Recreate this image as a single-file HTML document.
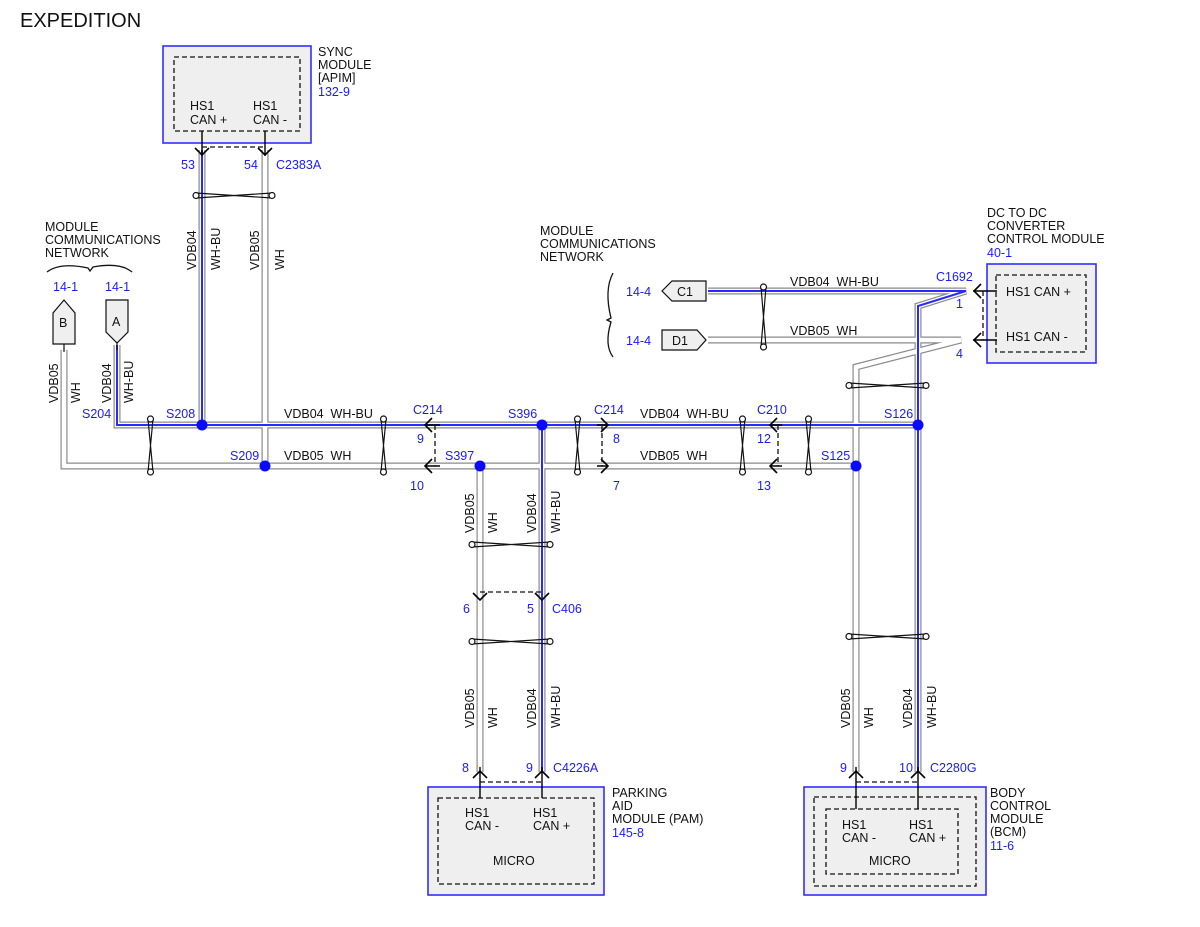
<!DOCTYPE html>
<html><head><meta charset="utf-8"><style>
html,body{margin:0;padding:0;background:#fff;}
svg{display:block;font-family:"Liberation Sans","DejaVu Sans",sans-serif;font-size:12.5px;}
.b{fill:#1a1aff}
.k{fill:#111}
.o{fill:none;stroke:#8a8a8a;stroke-width:7}
.w{fill:none;stroke:#fff;stroke-width:4.6}
.u{fill:none;stroke:#2a2aff;stroke-width:2}
.ar{fill:none;stroke:#000;stroke-width:1.6}
.tw{fill:none;stroke:#111;stroke-width:1.2}
.tc{fill:#fff;stroke:#111;stroke-width:1.2}
.dash{fill:none;stroke:#111;stroke-width:1.3;stroke-dasharray:5,3}
.mod{fill:#efefef;stroke:#3030ff;stroke-width:1.6}
.dot{fill:#0a0aff}
</style></head><body>
<svg width="1200" height="927" viewBox="0 0 1200 927">
<defs>
<path id="a1" d="M117,345 V425 H918"/>
<path id="a2" d="M202,150 V425"/>
<path id="a3" d="M542,425 V772"/>
<path id="a4" d="M708,291 H966 L918,306 V772"/>
<path id="b1" d="M64,350 V466 H856"/>
<path id="b2" d="M265,150 V466"/>
<path id="b3" d="M480,466 V772"/>
<path id="b4" d="M708,340 H961 L856,367 V772"/>
</defs>
<text x="20" y="27" style="font-size:20px" class="k">EXPEDITION</text>

<!-- wires -->
<g class="o"><use href="#a1"/><use href="#a2"/><use href="#a3"/><use href="#a4"/><use href="#b1"/><use href="#b2"/><use href="#b3"/><use href="#b4"/></g>
<g class="w"><use href="#a1"/><use href="#a2"/><use href="#a3"/><use href="#a4"/><use href="#b1"/><use href="#b2"/><use href="#b3"/><use href="#b4"/></g>
<g class="u"><use href="#a1"/><use href="#a2"/><use href="#a3"/><use href="#a4"/></g>

<!-- SYNC module -->
<rect x="163" y="46" width="148" height="97" class="mod"/>
<rect x="174" y="57" width="126" height="74" class="dash"/>
<text x="190" y="110" class="k">HS1</text><text x="190" y="124" class="k">CAN +</text>
<text x="253" y="110" class="k">HS1</text><text x="253" y="124" class="k">CAN -</text>
<text x="318" y="56" class="k">SYNC</text><text x="318" y="69" class="k">MODULE</text><text x="318" y="82" class="k">[APIM]</text><text x="318" y="96" class="b">132-9</text>
<path d="M202,131V156 M265,131V156" stroke="#000" stroke-width="1.4"/>
<path d="M195,148 L202,155 L209,148 M258,148 L265,155 L272,148" class="ar"/>
<path d="M202,147 H265" class="dash"/>
<text x="181" y="169" class="b">53</text><text x="244" y="169" class="b">54</text><text x="276" y="169" class="b">C2383A</text>

<!-- DC module -->
<rect x="987" y="264" width="109" height="99" class="mod"/>
<rect x="996" y="275" width="90" height="77" class="dash"/>
<text x="1006" y="296" class="k">HS1 CAN +</text><text x="1006" y="341" class="k">HS1 CAN -</text>
<text x="987" y="217" class="k">DC TO DC</text><text x="987" y="230" class="k">CONVERTER</text><text x="987" y="243" class="k">CONTROL MODULE</text><text x="987" y="257" class="b">40-1</text>
<path d="M973,291H997 M973,340H997" stroke="#000" stroke-width="1.4"/>
<path d="M981,284 L974,291 L981,298 M981,333 L974,340 L981,347" class="ar"/>
<path d="M983,291V340" class="dash"/>
<text x="936" y="281" class="b">C1692</text><text x="956" y="308" class="b">1</text><text x="956" y="358" class="b">4</text>

<!-- PAM -->
<rect x="428" y="787" width="176" height="108" class="mod"/>
<rect x="438" y="798" width="156" height="86" class="dash"/>
<text x="465" y="817" class="k">HS1</text><text x="465" y="830" class="k">CAN -</text>
<text x="533" y="817" class="k">HS1</text><text x="533" y="830" class="k">CAN +</text>
<text x="493" y="865" class="k">MICRO</text>
<text x="612" y="797" class="k">PARKING</text><text x="612" y="810" class="k">AID</text><text x="612" y="823" class="k">MODULE (PAM)</text><text x="612" y="837" class="b">145-8</text>
<path d="M480,767V798 M542,767V798" stroke="#000" stroke-width="1.4"/>
<path d="M473,778 L480,771 L487,778 M535,778 L542,771 L549,778" class="ar"/>
<path d="M480,782H542" class="dash"/>
<text x="462" y="772" class="b">8</text><text x="526" y="772" class="b">9</text><text x="553" y="772" class="b">C4226A</text>

<!-- BCM -->
<rect x="804" y="787" width="182" height="108" class="mod"/>
<rect x="814" y="797" width="162" height="89" class="dash"/>
<rect x="826" y="809" width="132" height="65" class="dash"/>
<text x="842" y="829" class="k">HS1</text><text x="842" y="842" class="k">CAN -</text>
<text x="909" y="829" class="k">HS1</text><text x="909" y="842" class="k">CAN +</text>
<text x="869" y="865" class="k">MICRO</text>
<text x="990" y="797" class="k">BODY</text><text x="990" y="810" class="k">CONTROL</text><text x="990" y="823" class="k">MODULE</text><text x="990" y="836" class="k">(BCM)</text><text x="990" y="850" class="b">11-6</text>
<path d="M856,767V809 M918,767V809" stroke="#000" stroke-width="1.4"/>
<path d="M849,778 L856,771 L863,778 M911,778 L918,771 L925,778" class="ar"/>
<path d="M856,782H918" class="dash"/>
<text x="840" y="772" class="b">9</text><text x="899" y="772" class="b">10</text><text x="930" y="772" class="b">C2280G</text>

<!-- C406 -->
<path d="M473,593 L480,600 L487,593 M535,593 L542,600 L549,593" class="ar"/>
<path d="M480,592H542" class="dash"/>
<text x="463" y="613" class="b">6</text><text x="527" y="613" class="b">5</text><text x="552" y="613" class="b">C406</text>

<!-- C214 left -->
<path d="M432,418 L425,425 L432,432 M432,459 L425,466 L432,473 M425,425H440 M425,466H440" class="ar"/>
<path d="M435,425V466" class="dash"/>
<text x="413" y="414" class="b">C214</text><text x="417" y="443" class="b">9</text><text x="410" y="490" class="b">10</text>
<!-- C214 right -->
<path d="M601,418 L608,425 L601,432 M601,459 L608,466 L601,473 M597,425H608 M597,466H608" class="ar"/>
<path d="M602,425V466" class="dash"/>
<text x="594" y="414" class="b">C214</text><text x="613" y="443" class="b">8</text><text x="613" y="490" class="b">7</text>
<!-- C210 -->
<path d="M777,418 L770,425 L777,432 M777,459 L770,466 L777,473 M770,425H782 M770,466H782" class="ar"/>
<path d="M778,425V466" class="dash"/>
<text x="757" y="414" class="b">C210</text><text x="757" y="443" class="b">12</text><text x="757" y="490" class="b">13</text>

<!-- splices -->
<circle cx="202" cy="425" r="5.5" class="dot"/><circle cx="265" cy="466" r="5.5" class="dot"/>
<circle cx="542" cy="425" r="5.5" class="dot"/><circle cx="480" cy="466" r="5.5" class="dot"/>
<circle cx="918" cy="425" r="5.5" class="dot"/><circle cx="856" cy="466" r="5.5" class="dot"/>
<text x="166" y="418" class="b">S208</text><text x="230" y="460" class="b">S209</text>
<text x="82" y="418" class="b">S204</text>
<text x="508" y="418" class="b">S396</text><text x="445" y="460" class="b">S397</text>
<text x="884" y="418" class="b">S126</text><text x="821" y="460" class="b">S125</text>

<!-- horizontal labels -->
<text x="284" y="418" class="k">VDB04&#160;&#160;WH-BU</text>
<text x="284" y="460" class="k">VDB05&#160;&#160;WH</text>
<text x="640" y="418" class="k">VDB04&#160;&#160;WH-BU</text>
<text x="640" y="460" class="k">VDB05&#160;&#160;WH</text>
<text x="790" y="286" class="k">VDB04&#160;&#160;WH-BU</text>
<text x="790" y="335" class="k">VDB05&#160;&#160;WH</text>

<!-- vertical labels -->
<g class="k">
<text transform="translate(196,270) rotate(-90)">VDB04</text>
<text transform="translate(220,270) rotate(-90)">WH-BU</text>
<text transform="translate(259,270) rotate(-90)">VDB05</text>
<text transform="translate(284,270) rotate(-90)">WH</text>
<text transform="translate(58,403) rotate(-90)">VDB05</text>
<text transform="translate(80,403) rotate(-90)">WH</text>
<text transform="translate(111,403) rotate(-90)">VDB04</text>
<text transform="translate(133,403) rotate(-90)">WH-BU</text>
<text transform="translate(474,533) rotate(-90)">VDB05</text>
<text transform="translate(497,533) rotate(-90)">WH</text>
<text transform="translate(536,533) rotate(-90)">VDB04</text>
<text transform="translate(560,533) rotate(-90)">WH-BU</text>
<text transform="translate(474,728) rotate(-90)">VDB05</text>
<text transform="translate(497,728) rotate(-90)">WH</text>
<text transform="translate(536,728) rotate(-90)">VDB04</text>
<text transform="translate(560,728) rotate(-90)">WH-BU</text>
<text transform="translate(850,728) rotate(-90)">VDB05</text>
<text transform="translate(873,728) rotate(-90)">WH</text>
<text transform="translate(912,728) rotate(-90)">VDB04</text>
<text transform="translate(936,728) rotate(-90)">WH-BU</text>
</g>

<!-- left network -->
<text x="45" y="231" class="k">MODULE</text><text x="45" y="244" class="k">COMMUNICATIONS</text><text x="45" y="257" class="k">NETWORK</text>
<path d="M47,272 Q60,262 88,268 L90,271 L93,267 Q120,262 132,272" fill="none" stroke="#111" stroke-width="1.3"/>
<text x="53" y="291" class="b">14-1</text><text x="105" y="291" class="b">14-1</text>
<path d="M53,344 V313 L64,300 L75,313 V344 Z" fill="#efefef" stroke="#111" stroke-width="1.2"/>
<text x="59" y="327" class="k">B</text>
<path d="M106,300 H128 V332 L117,343 L106,332 Z" fill="#efefef" stroke="#111" stroke-width="1.2"/>
<text x="112" y="326" class="k">A</text>
<path d="M64,344V352 M117,343V350" stroke="#111" stroke-width="1.2"/>

<!-- right network -->
<text x="540" y="235" class="k">MODULE</text><text x="540" y="248" class="k">COMMUNICATIONS</text><text x="540" y="261" class="k">NETWORK</text>
<path d="M613,273 Q604,290 611,318 L607,320 L611,322 Q604,345 613,357" fill="none" stroke="#111" stroke-width="1.3"/>
<text x="626" y="296" class="b">14-4</text><text x="626" y="345" class="b">14-4</text>
<path d="M672,281 H706 V301 H672 L662,291 Z" fill="#efefef" stroke="#111" stroke-width="1.2"/>
<text x="677" y="296" class="k">C1</text>
<path d="M662,330 H697 L706,340 L697,350 H662 Z" fill="#efefef" stroke="#111" stroke-width="1.2"/>
<text x="672" y="345" class="k">D1</text>

<!-- twists -->
<g>
<path d="M196,193 L272,198 M196,198 L272,193" class="tw"/><circle cx="196" cy="195.5" r="3" class="tc"/><circle cx="272" cy="195.5" r="3" class="tc"/>
<path d="M472,542 L550,547 M472,547 L550,542" class="tw"/><circle cx="472" cy="544.5" r="3" class="tc"/><circle cx="550" cy="544.5" r="3" class="tc"/>
<path d="M472,639 L550,644 M472,644 L550,639" class="tw"/><circle cx="472" cy="641.5" r="3" class="tc"/><circle cx="550" cy="641.5" r="3" class="tc"/>
<path d="M849,634 L926,639 M849,639 L926,634" class="tw"/><circle cx="849" cy="636.5" r="3" class="tc"/><circle cx="926" cy="636.5" r="3" class="tc"/>
<path d="M849,383 L926,388 M849,388 L926,383" class="tw"/><circle cx="849" cy="385.5" r="3" class="tc"/><circle cx="926" cy="385.5" r="3" class="tc"/>
</g>
<g>
<path d="M148,419 L153,472 M153,419 L148,472" class="tw"/><circle cx="150.5" cy="419" r="3" class="tc"/><circle cx="150.5" cy="472" r="3" class="tc"/>
<path d="M381,419 L386,472 M386,419 L381,472" class="tw"/><circle cx="383.5" cy="419" r="3" class="tc"/><circle cx="383.5" cy="472" r="3" class="tc"/>
<path d="M575,419 L580,472 M580,419 L575,472" class="tw"/><circle cx="577.5" cy="419" r="3" class="tc"/><circle cx="577.5" cy="472" r="3" class="tc"/>
<path d="M740,419 L745,472 M745,419 L740,472" class="tw"/><circle cx="742.5" cy="419" r="3" class="tc"/><circle cx="742.5" cy="472" r="3" class="tc"/>
<path d="M806,419 L811,472 M811,419 L806,472" class="tw"/><circle cx="808.5" cy="419" r="3" class="tc"/><circle cx="808.5" cy="472" r="3" class="tc"/>
<path d="M761,287 L766,347 M766,287 L761,347" class="tw"/><circle cx="763.5" cy="287" r="3" class="tc"/><circle cx="763.5" cy="347" r="3" class="tc"/>
</g>
</svg>
</body></html>
